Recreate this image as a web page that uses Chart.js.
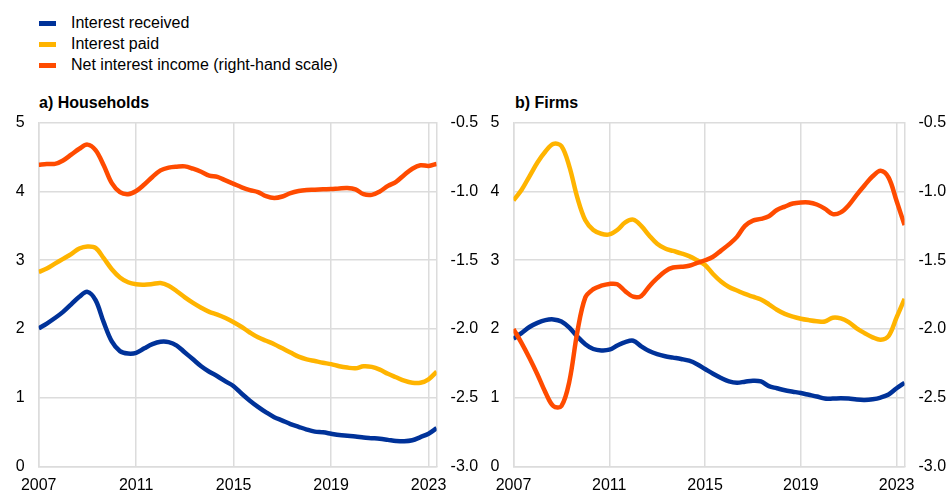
<!DOCTYPE html>
<html>
<head>
<meta charset="utf-8">
<script src="https://cdn.jsdelivr.net/npm/chart.js@4"></script>
<style>
  body { margin: 0; width: 949px; height: 492px; background: #fff; position: relative; overflow: hidden;
         font-family: "Liberation Sans", Arial, sans-serif; color: #000; }
  .legend { position: absolute; left: 39px; top: 12px; font-size: 16px; }
  .legend div { height: 21px; line-height: 21px; position: relative; padding-left: 32px; white-space: nowrap; }
  .legend span { position: absolute; left: 0; top: 9px; width: 17px; height: 5px; }
  .title { position: absolute; top: 93px; font-size: 16px; line-height: 20px; font-weight: bold; }
  canvas { position: absolute; top: 99px; }
</style>
</head>
<body>
<div class="legend">
  <div><span style="background:#003299"></span>Interest received</div>
  <div><span style="background:#ffb400"></span>Interest paid</div>
  <div><span style="background:#ff4b00"></span>Net interest income (right-hand scale)</div>
</div>
<div class="title" style="left:39px">a) Households</div>
<div class="title" style="left:515px">b) Firms</div>
<canvas id="households" width="490" height="393" style="left:0"></canvas>
<canvas id="firms" width="474" height="393" style="left:475px"></canvas>

<script>
// observations every four months, Jan 2007 to May 2023
const periods = Array.from({ length: 50 }, (_, i) => 2007 + i / 3);
const yearTicks = [2007, 2011, 2015, 2019, 2023];

// households, % (left scale) and net income (right scale)
const hhReceived = [2.01, 2.08, 2.16, 2.25, 2.36, 2.47, 2.54, 2.42, 2.10, 1.82,
  1.68, 1.645, 1.655, 1.72, 1.78, 1.815, 1.81, 1.76, 1.66, 1.56,
  1.46, 1.38, 1.315, 1.24, 1.17, 1.06, 0.96, 0.87, 0.79, 0.72,
  0.67, 0.62, 0.58, 0.54, 0.51, 0.50, 0.48, 0.46, 0.45, 0.44,
  0.425, 0.415, 0.405, 0.39, 0.375, 0.37, 0.385, 0.43, 0.48, 0.56];
const hhPaid = [2.83, 2.88, 2.95, 3.02, 3.09, 3.17, 3.20, 3.18, 3.03, 2.87,
  2.75, 2.68, 2.65, 2.645, 2.655, 2.67, 2.63, 2.55, 2.46, 2.38,
  2.31, 2.25, 2.21, 2.16, 2.10, 2.03, 1.95, 1.88, 1.83, 1.78,
  1.72, 1.66, 1.60, 1.56, 1.535, 1.51, 1.49, 1.46, 1.44, 1.43,
  1.46, 1.45, 1.41, 1.35, 1.30, 1.25, 1.22, 1.22, 1.27, 1.38];
const hhNet = [-0.806, -0.80, -0.80, -0.775, -0.733, -0.69, -0.66, -0.70, -0.81, -0.94,
  -1.005, -1.02, -0.997, -0.95, -0.895, -0.847, -0.827, -0.82, -0.818, -0.835,
  -0.857, -0.885, -0.895, -0.92, -0.945, -0.97, -0.99, -1.005, -1.035, -1.048,
  -1.037, -1.012, -0.997, -0.99, -0.988, -0.985, -0.983, -0.978, -0.975, -0.985,
  -1.02, -1.025, -1.0, -0.96, -0.93, -0.88, -0.835, -0.81, -0.815, -0.80];

// firms
const firmsReceived = [1.86, 1.94, 2.03, 2.09, 2.13, 2.14, 2.11, 2.02, 1.89, 1.78,
  1.71, 1.69, 1.70, 1.76, 1.81, 1.83, 1.75, 1.68, 1.635, 1.605,
  1.585, 1.565, 1.54, 1.49, 1.42, 1.35, 1.29, 1.24, 1.22, 1.235,
  1.25, 1.24, 1.17, 1.14, 1.11, 1.09, 1.07, 1.045, 1.02, 0.99,
  0.99, 0.995, 0.99, 0.975, 0.97, 0.98, 1.005, 1.05, 1.14, 1.22];
const firmsPaid = [3.87, 4.02, 4.22, 4.42, 4.58, 4.69, 4.66, 4.36, 3.91, 3.58,
  3.44, 3.385, 3.375, 3.44, 3.55, 3.59, 3.50, 3.36, 3.24, 3.17,
  3.135, 3.10, 3.06, 3.00, 2.93, 2.80, 2.69, 2.61, 2.56, 2.51,
  2.47, 2.43, 2.36, 2.28, 2.22, 2.18, 2.15, 2.13, 2.115, 2.11,
  2.165, 2.155, 2.10, 2.01, 1.94, 1.88, 1.845, 1.90, 2.17, 2.44];
const firmsNet = [-2.00, -2.10, -2.21, -2.33, -2.46, -2.56, -2.56, -2.38, -2.02, -1.77,
  -1.71, -1.685, -1.672, -1.675, -1.725, -1.765, -1.76, -1.69, -1.63, -1.58,
  -1.553, -1.548, -1.54, -1.52, -1.50, -1.475, -1.43, -1.385, -1.33, -1.25,
  -1.212, -1.20, -1.18, -1.135, -1.11, -1.088, -1.08, -1.08, -1.095, -1.125,
  -1.165, -1.152, -1.10, -1.025, -0.955, -0.89, -0.85, -0.90, -1.07, -1.245];

const gridColor = '#dcdcdc';
const tickFont = { family: '"Liberation Sans", Arial, sans-serif', size: 16 };

function toPoints(vals) {
  return periods.map((x, i) => ({ x: x, y: vals[i] }));
}

function line(label, vals, color, axis, order) {
  return {
    label: label,
    data: toPoints(vals),
    borderColor: color,
    backgroundColor: color,
    borderWidth: 4.5,
    pointRadius: 0,
    tension: 0.35,
    yAxisID: axis,
    order: order
  };
}

function makeChart(id, received, paid, net, leftW, rightW) {
  return new Chart(document.getElementById(id), {
    type: 'line',
    data: {
      datasets: [
        line('Interest received', received, '#003299', 'y', 3),
        line('Interest paid', paid, '#ffb400', 'y', 2),
        line('Net interest income (right-hand scale)', net, '#ff4b00', 'y1', 1)
      ]
    },
    options: {
      responsive: false,
      animation: false,
      layout: { padding: 0 },
      plugins: { legend: { display: false }, tooltip: { enabled: false } },
      scales: {
        x: {
          type: 'linear',
          min: 2007,
          max: 2023.33,
          afterBuildTicks: s => { s.ticks = yearTicks.map(v => ({ value: v })); },
          afterFit: s => { s.height = 25.3; },
          grid: { color: gridColor, lineWidth: 1.5, drawTicks: false },
          border: { color: gridColor, width: 1.5 },
          ticks: { padding: 9, font: tickFont, color: '#000', maxRotation: 0, autoSkip: false,
                   callback: v => String(v) }
        },
        y: {
          position: 'left',
          min: 0,
          max: 5,
          afterFit: s => { s.width = leftW; },
          grid: { color: gridColor, lineWidth: 1.5, drawTicks: false },
          border: { color: gridColor, width: 1.5 },
          ticks: { stepSize: 1, padding: 14, font: tickFont, color: '#000' }
        },
        y1: {
          position: 'right',
          min: -3,
          max: -0.5,
          afterFit: s => { s.width = rightW; },
          grid: { display: false, drawTicks: false },
          border: { color: gridColor, width: 1.5 },
          ticks: { stepSize: 0.5, padding: 14, font: tickFont, color: '#000',
                   callback: v => v.toFixed(1) }
        }
      }
    }
  });
}

makeChart('households', hhReceived, hhPaid, hhNet, 38.7, 53.4);
makeChart('firms', firmsReceived, firmsPaid, firmsNet, 38.5, 44.5);
</script>
</body>
</html>
